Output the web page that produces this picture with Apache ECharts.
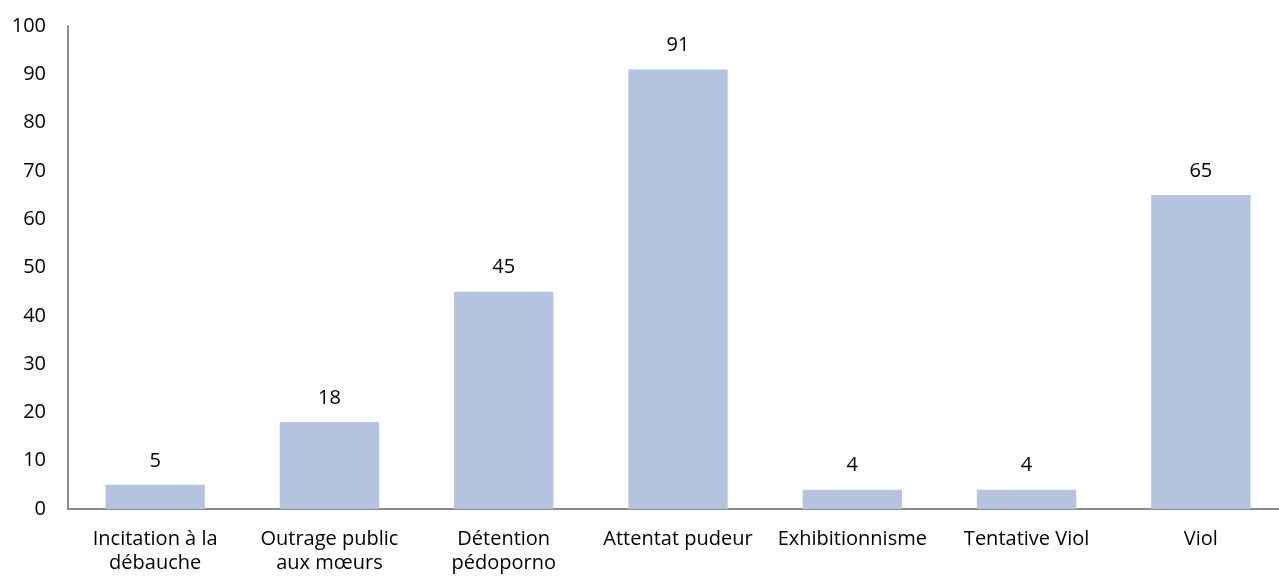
<!DOCTYPE html>
<html>
<head>
<meta charset="utf-8">
<script src="https://cdn.jsdelivr.net/npm/echarts@6/dist/echarts.min.js"></script>
<style>
html,body{margin:0;padding:0;overflow:hidden;background:#fff;}
#c{width:1288px;height:579px;}
</style>
</head>
<body>
<div id="c"></div>
<script>
var categories = ["Incitation à la\ndébauche", "Outrage public\naux mœurs", "Détention\npédoporno", "Attentat pudeur", "Exhibitionnisme", "Tentative Viol", "Viol"];
var values = [5, 18, 45, 91, 4, 4, 65];
var yTicks = [0, 10, 20, 30, 40, 50, 60, 70, 80, 90, 100];

var font = "'Open Sans', 'Liberation Sans', sans-serif";
var chart = echarts.init(document.getElementById('c'), null, {renderer: 'canvas'});
chart.setOption({
  animation: false,
  grid: {left: 68, right: 0, top: 26, bottom: 70, containLabel: false},
  xAxis: {
    type: 'category',
    data: categories,
    axisLine: {show: true, lineStyle: {color: '#8c8c8c', width: 2}},
    axisTick: {show: false},
    axisLabel: {color: '#000', fontSize: 20, fontFamily: font, lineHeight: 24, margin: 18, interval: 0}
  },
  yAxis: {
    type: 'value',
    min: yTicks[0],
    max: yTicks[yTicks.length - 1],
    interval: 10,
    axisLine: {show: true, lineStyle: {color: '#8c8c8c', width: 2}},
    axisTick: {show: false},
    splitLine: {show: false},
    axisLabel: {color: '#000', fontSize: 20, fontFamily: font, margin: 22}
  },
  series: [{
    type: 'bar',
    data: values,
    barCategoryGap: '43%',
    itemStyle: {color: '#b4c4de'},
    label: {show: true, position: 'top', distance: 14, color: '#000', fontSize: 20, fontFamily: font}
  }]
});
</script>
</body>
</html>
